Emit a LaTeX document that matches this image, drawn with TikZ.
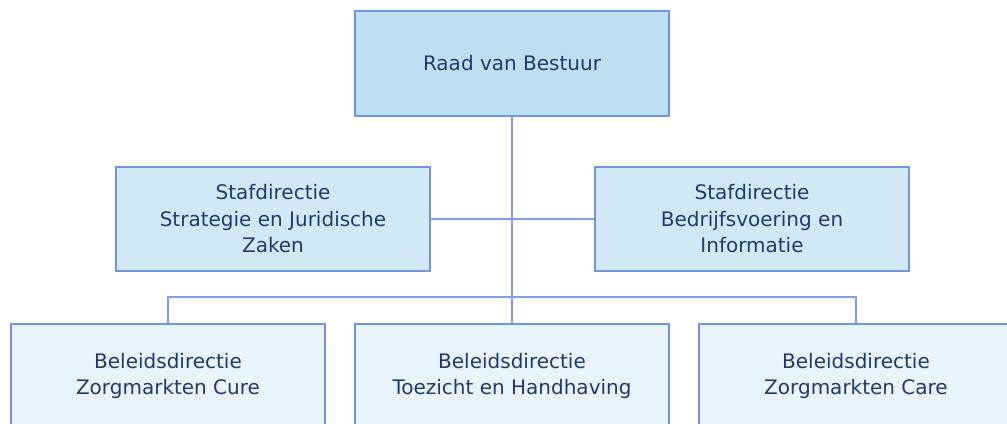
\documentclass[tikz,border=0pt]{standalone}
\usepackage{fontspec}
\setmainfont{DejaVu Sans}
\definecolor{bordc}{HTML}{6E95E2}
\definecolor{linec}{HTML}{7BA0E8}
\definecolor{topfill}{HTML}{BCDFF1}
\definecolor{midfill}{HTML}{D2E9F5}
\definecolor{botfill}{HTML}{E8F3FA}
\definecolor{textc}{HTML}{1E3A70}
\begin{document}
\begin{tikzpicture}[x=0.75pt,y=-0.75pt,
  orgbox/.style={draw=bordc,line width=1.4pt,minimum width=235.5pt,minimum height=78.5pt,
    align=center,text=textc,font=\fontsize{15}{19.9}\selectfont,inner sep=0pt},
  conn/.style={draw=linec,line width=0.8pt}]
\useasboundingbox (0,0) rectangle (1007,424);
\clip (0,0) rectangle (1007,424);
\fill[white] (0,0) rectangle (1007,424);
\node[orgbox,fill=topfill] (top) at (512,63.5) {Raad van Bestuur};
\node[orgbox,fill=midfill] (midL) at (273,219) {Stafdirectie\\Strategie en Juridische\\Zaken};
\node[orgbox,fill=midfill] (midR) at (752,219) {Stafdirectie\\Bedrijfsvoering en\\Informatie};
\node[orgbox,fill=botfill] (botL) at (168,376) {Beleidsdirectie\\Zorgmarkten Cure};
\node[orgbox,fill=botfill] (botM) at (512,376) {Beleidsdirectie\\Toezicht en Handhaving};
\node[orgbox,fill=botfill] (botR) at (856,376) {Beleidsdirectie\\Zorgmarkten Care};
\coordinate (bus) at (512,297);
\draw[conn] (top.south) -- (botM.north);
\draw[conn] (midL.east) -- (midR.west);
\draw[conn] (botL.north) |- (bus) -| (botR.north);
\end{tikzpicture}
\end{document}
